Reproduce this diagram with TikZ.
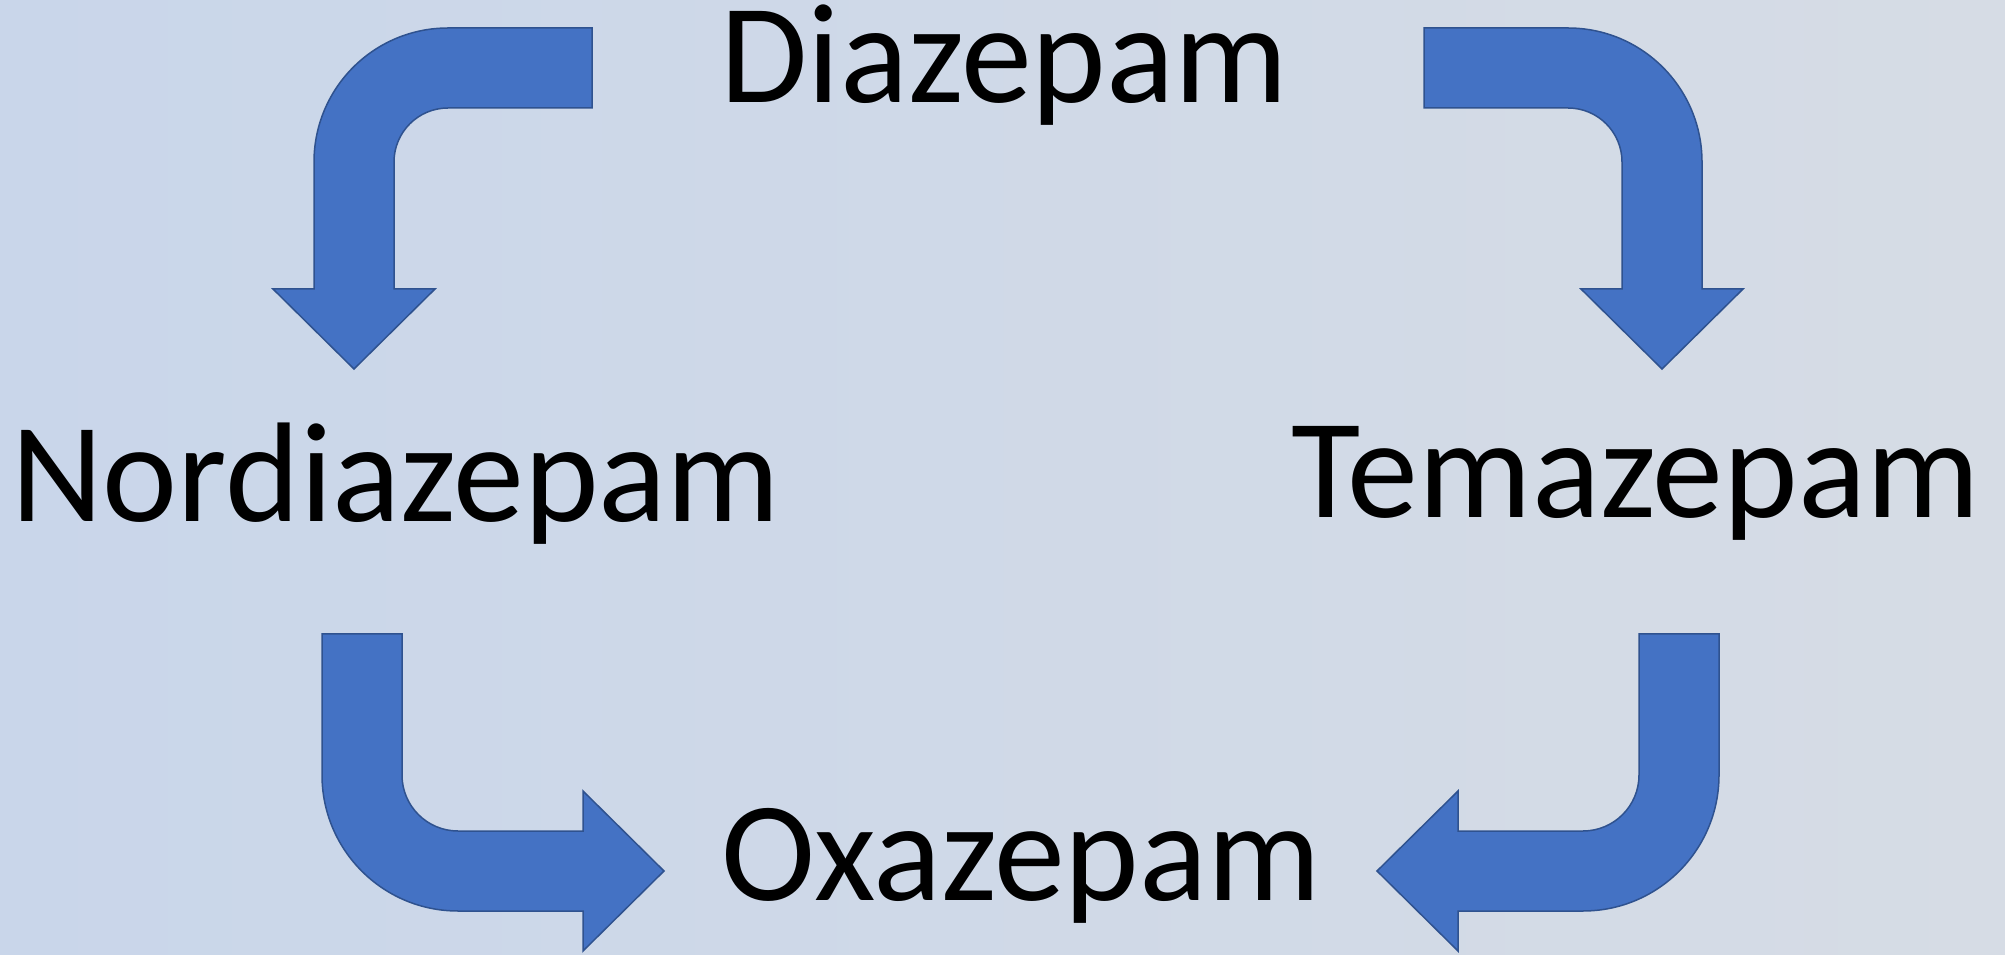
\documentclass[tikz,border=0pt]{standalone}
\usepackage{fontspec}
\setmainfont{Carlito}
\definecolor{bgleft}{HTML}{C9D6EA}
\definecolor{bgright}{HTML}{D6DCE5}
\definecolor{arrowfill}{HTML}{4472C4}
\definecolor{arrowline}{HTML}{2F528F}
\tikzset{
  blockarrow/.style={fill=arrowfill, draw=arrowline, line width=1.5pt, line join=miter},
  drugname/.style={font=\fontsize{142}{170}\selectfont, inner sep=0pt, text=black}
}
\begin{document}
\begin{tikzpicture}[x=1pt, y=1pt]
  % backdrop
  \fill[left color=bgleft, right color=bgright] (0,0) rectangle (2005,954);
  \useasboundingbox (0,0) rectangle (2005,954);

  % compound names
  \node[drugname, anchor=base]      (diaz) at (1004,851) {Diazepam};
  \node[drugname, anchor=base west] (nord) at (11,432)   {Nordiazepam};
  \node[drugname, anchor=base west] (tema) at (1291,436) {Temazepam};
  \node[drugname, anchor=base]      (oxaz) at (1021,54)  {Oxazepam};

  % Diazepam -> Nordiazepam
  \draw[blockarrow] (592,926) -- (448,926) arc[start angle=90, end angle=180, radius=134]
    -- (314,665) -- (273,665) -- (354,585) -- (435,665) -- (394,665) -- (394,792)
    arc[start angle=180, end angle=90, radius=54] -- (592,846) -- cycle;

  % Diazepam -> Temazepam
  \draw[blockarrow] (1424,926) -- (1568,926) arc[start angle=90, end angle=0, radius=134]
    -- (1702,665) -- (1743,665) -- (1662,585) -- (1581,665) -- (1622,665) -- (1622,792)
    arc[start angle=0, end angle=90, radius=54] -- (1424,846) -- cycle;

  % Nordiazepam -> Oxazepam
  \draw[blockarrow] (322,320) -- (322,179) arc[start angle=180, end angle=270, radius=136]
    -- (583,43) -- (583,3) -- (664,83) -- (583,163) -- (583,123) -- (458,123)
    arc[start angle=270, end angle=180, radius=56] -- (402,320) -- cycle;

  % Temazepam -> Oxazepam
  \draw[blockarrow] (1719,320) -- (1719,179) arc[start angle=0, end angle=-90, radius=136]
    -- (1458,43) -- (1458,3) -- (1377,83) -- (1458,163) -- (1458,123) -- (1583,123)
    arc[start angle=-90, end angle=0, radius=56] -- (1639,320) -- cycle;
\end{tikzpicture}
\end{document}
